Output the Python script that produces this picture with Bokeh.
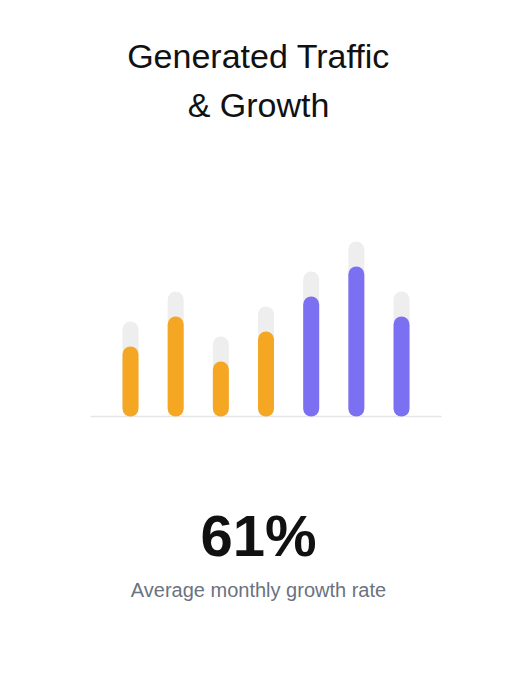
from bokeh.plotting import figure
from bokeh.models import Range1d, Label, ColumnDataSource
from bokeh.embed import file_html
from bokeh.resources import INLINE

# ---- data ----
months = ["M1", "M2", "M3", "M4", "M5", "M6", "M7"]
traffic = [28, 40, 22, 34, 48, 60, 40]
track = [38, 50, 32, 44, 58, 70, 50]
period = ["past", "past", "past", "past", "recent", "recent", "recent"]
title_lines = ["Generated Traffic", "& Growth"]
kpi_value = "61%"
kpi_label = "Average monthly growth rate"

ORANGE = "#F5A623"
PURPLE = "#7B70F2"
TRACK = "#EEEEEE"
palette = {"past": ORANGE, "recent": PURPLE}

xs = list(range(len(months)))
src = ColumnDataSource(dict(
    x=xs, traffic=traffic, track=track,
    color=[palette[p] for p in period],
))

W, H = 500, 670
FIRST_X_PX = 130.0      # pixel centre of first bar
PX_PER_X = 45.17        # pixel spacing of bars
BASE_PX = 416.0         # pixel row of the baseline (from top)
PX_PER_Y = 2.5
AXIS_PAD = 0.885        # baseline extends this far past the outer bars

x0 = -FIRST_X_PX / PX_PER_X
x1 = (W - FIRST_X_PX) / PX_PER_X
y0 = -(H - BASE_PX) / PX_PER_Y
y1 = BASE_PX / PX_PER_Y

p = figure(width=W, height=H, output_backend="svg", toolbar_location=None,
           x_range=Range1d(x0, x1), y_range=Range1d(y0, y1),
           min_border=0, outline_line_color=None,
           background_fill_color="white", border_fill_color="white")
p.axis.visible = False
p.grid.visible = False

# baseline (x axis line)
p.line(x=[xs[0] - AXIS_PAD, xs[-1] + AXIS_PAD], y=[0, 0],
       line_color="#E6E6E6", line_width=1.5)

bw = 16 / PX_PER_X
p.vbar(x="x", top="track", bottom=0, width=bw, source=src,
       fill_color=TRACK, line_color=None, border_radius=8)
p.vbar(x="x", top="traffic", bottom=0, width=bw, source=src,
       fill_color="color", line_color=None, border_radius=8)

FONT = "Liberation Sans"
CX = 258

def lab(text, y_from_top, size, color, style="normal"):
    p.add_layout(Label(x=CX, y=H - y_from_top, x_units="screen", y_units="screen",
                       text=text, text_align="center", text_baseline="alphabetic",
                       text_font=FONT, text_font_size=size, text_color=color,
                       text_font_style=style))

lab(title_lines[0], 55.5, "34px", "#111111")
lab(title_lines[1], 104.5, "34px", "#111111")
lab(kpi_value, 535, "58px", "#111111", "bold")
lab(kpi_label, 589, "20px", "#6B7280")

open("out.html", "w").write(file_html(p, INLINE))
